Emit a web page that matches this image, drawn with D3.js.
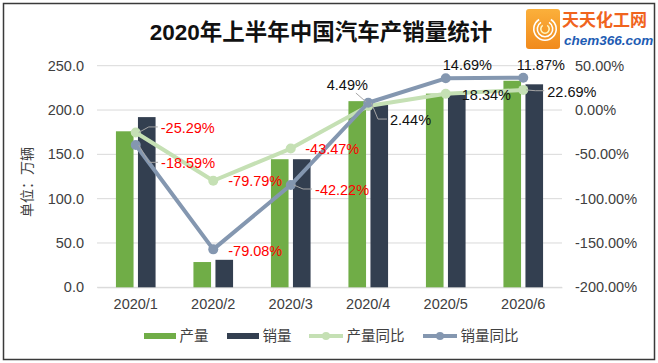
<!DOCTYPE html>
<html>
<head>
<meta charset="utf-8">
<script src="https://cdn.jsdelivr.net/npm/d3@7/dist/d3.min.js"></script>
<style>
  html, body { margin: 0; padding: 0; background: #fff; }
  svg text { font-family: "Liberation Sans", Arial, "Noto Sans CJK SC", sans-serif; }
</style>
</head>
<body>
<div id="chart"></div>
<script>
// data
const months = ["2020/1", "2020/2", "2020/3", "2020/4", "2020/5", "2020/6"];
const production = [176, 28.5, 144.5, 210, 218.5, 233];
const sales = [192, 31, 144.5, 206, 217, 229];
const productionYoy = [-25.29, -79.79, -43.47, 4.49, 18.34, 22.69];
// the sales line in the source is drawn at these heights, labelled with salesYoyLabels
const salesYoyPlot = [-39.5, -157.2, -84.6, 8.2, 35.8, 36.4];
const salesYoyLabels = [-18.59, -79.08, -42.22, 2.44, 14.69, 11.87];
const leftTicks = [0, 50, 100, 150, 200, 250];
const rightTicks = [-200, -150, -100, -50, 0, 50];

// label placement relative to its marker: [dx, dy, leader]
const prodLabelPos = [[25, -4.5, "side"], [15, 0, null], [14.5, 0.7, null], [-41.5, -21, "up"], [16, 1.3, null], [24, 1.8, "side"]];
const salesLabelPos = [[25.3, 18.3, "side"], [15, 1.4, null], [24.3, 5, "side"], [21.7, 17.3, "side"], [-3, -13.3, null], [-6.5, -12.7, null]];

const width = 658, height = 363;
const plot = { left: 97, right: 562, top: 65.7, bottom: 287.3 };

const svg = d3.select("#chart").append("svg")
  .attr("width", width)
  .attr("height", height);

svg.append("rect")
  .attr("x", 3.5).attr("y", 3.5)
  .attr("width", 651).attr("height", 356)
  .attr("fill", "#fff")
  .attr("stroke", "#3a3a3a")
  .attr("stroke-width", 1.5);

const x = d3.scaleBand().domain(months).range([plot.left, plot.right]).padding(0);
const x1 = d3.scaleBand().domain(["prod", "sales"]).range([0, x.bandwidth()])
  .paddingInner(0.2).paddingOuter(0.86);
const yL = d3.scaleLinear().domain([0, 250]).range([plot.bottom, plot.top]);
const yR = d3.scaleLinear().domain([-200, 50]).range([plot.bottom, plot.top]);
const cx = m => x(m) + x.bandwidth() / 2;

// gridlines
svg.append("g").selectAll("line")
  .data(leftTicks)
  .join("line")
  .attr("x1", plot.left).attr("x2", plot.right)
  .attr("y1", d => yL(d)).attr("y2", d => yL(d))
  .attr("stroke", "#d9d9d9")
  .attr("stroke-width", 1);

// left axis
const axisLeft = d3.axisLeft(yL).tickValues(leftTicks).tickFormat(d3.format(".1f")).tickSize(0).tickPadding(13);
svg.append("g")
  .attr("transform", `translate(${plot.left},0)`)
  .call(axisLeft)
  .call(g => g.select(".domain").remove())
  .call(g => g.selectAll("text").attr("font-size", 14.5).attr("fill", "#404040")
    .style("font-family", '"Liberation Sans", Arial, sans-serif'));

// right axis
const axisRight = d3.axisRight(yR).tickValues(rightTicks).tickFormat(d => d.toFixed(2) + "%").tickSize(0).tickPadding(13);
svg.append("g")
  .attr("transform", `translate(${plot.right},0)`)
  .call(axisRight)
  .call(g => g.select(".domain").remove())
  .call(g => g.selectAll("text").attr("font-size", 14.5).attr("fill", "#404040")
    .style("font-family", '"Liberation Sans", Arial, sans-serif'));

// bottom axis
const axisBottom = d3.axisBottom(x).tickSize(0).tickPadding(11);
svg.append("g")
  .attr("transform", `translate(0,${plot.bottom})`)
  .call(axisBottom)
  .call(g => g.select(".domain").attr("stroke", "#d9d9d9"))
  .call(g => g.selectAll("text").attr("font-size", 14.5).attr("fill", "#404040")
    .style("font-family", '"Liberation Sans", Arial, sans-serif'));

// y axis title
svg.append("text")
  .attr("transform", "translate(27,182) rotate(-90)")
  .attr("text-anchor", "middle")
  .attr("dominant-baseline", "central")
  .attr("font-size", 14)
  .attr("fill", "#404040")
  .text("单位：万辆");

// bars
svg.append("g").selectAll("rect")
  .data(production)
  .join("rect")
  .attr("x", (d, i) => x(months[i]) + x1("prod"))
  .attr("width", x1.bandwidth())
  .attr("y", d => yL(d))
  .attr("height", d => yL(0) - yL(d))
  .attr("fill", "#70ad47");

svg.append("g").selectAll("rect")
  .data(sales)
  .join("rect")
  .attr("x", (d, i) => x(months[i]) + x1("sales"))
  .attr("width", x1.bandwidth())
  .attr("y", d => yL(d))
  .attr("height", d => yL(0) - yL(d))
  .attr("fill", "#333f50");

// lines
const drawLine = function(values, color) {
  const line = d3.line().x((d, i) => cx(months[i])).y(d => yR(d));
  svg.append("path")
    .datum(values)
    .attr("d", line)
    .attr("fill", "none")
    .attr("stroke", color)
    .attr("stroke-width", 4)
    .attr("stroke-linejoin", "round");
  svg.append("g").selectAll("circle")
    .data(values)
    .join("circle")
    .attr("cx", (d, i) => cx(months[i]))
    .attr("cy", d => yR(d))
    .attr("r", 5)
    .attr("fill", color);
}
drawLine(productionYoy, "#c5e0b4");
drawLine(salesYoyPlot, "#8497b0");

// data labels
const drawLabels = function(plotValues, labels, pos) {
  const g = svg.append("g");
  labels.forEach((v, i) => {
    const mx = cx(months[i]), my = yR(plotValues[i]);
    const [dx, dy, leader] = pos[i];
    const tx = mx + dx, ty = my + dy;
    const t = g.append("text")
      .attr("x", tx).attr("y", ty)
      .attr("dominant-baseline", "central")
      .attr("font-size", 14.5)
      .attr("fill", v < 0 ? "#ff0000" : "#111")
      .style("font-family", '"Liberation Sans", Arial, sans-serif')
      .text(v.toFixed(2) + "%");
    if (leader === "side") {
      g.append("polyline")
        .attr("points", `${tx - 3},${ty - 1} ${tx - 12},${ty - 1} ${mx + 3},${my}`)
        .attr("fill", "none").attr("stroke", "#a6a6a6").attr("stroke-width", 1);
    } else if (leader === "up") {
      const w = t.node().getComputedTextLength();
      g.append("line")
        .attr("x1", tx + w - 12).attr("y1", ty + 8)
        .attr("x2", mx - 2).attr("y2", my - 4)
        .attr("stroke", "#a6a6a6").attr("stroke-width", 1);
    }
  });
}
drawLabels(productionYoy, productionYoy, prodLabelPos);
drawLabels(salesYoyPlot, salesYoyLabels, salesLabelPos);

// title
svg.append("text")
  .attr("x", 321).attr("y", 32)
  .attr("text-anchor", "middle")
  .attr("dominant-baseline", "central")
  .attr("font-size", 22.5)
  .attr("font-weight", "bold")
  .attr("fill", "#111")
  .text("2020年上半年中国汽车产销量统计");

// logo
const logo = svg.append("g");
const grad = svg.append("defs").append("linearGradient").attr("id", "lg").attr("x1", 0).attr("y1", 0).attr("x2", 0).attr("y2", 1);
grad.append("stop").attr("offset", "0%").attr("stop-color", "#fbb03b");
grad.append("stop").attr("offset", "100%").attr("stop-color", "#f18a1c");
logo.append("rect").attr("x", 526).attr("y", 9).attr("width", 34).attr("height", 40).attr("rx", 3).attr("fill", "url(#lg)");
[12, 8.5, 5].forEach((r, i) => {
  logo.append("path")
    .attr("d", d3.arc().innerRadius(r - 1.6).outerRadius(r).startAngle(0.55).endAngle(2 * Math.PI - 0.55)())
    .attr("transform", "translate(545,29)")
    .attr("fill", i === 2 ? "#fff6c0" : "#fff");
});
logo.append("text").attr("x", 562).attr("y", 26)
  .attr("font-size", 17).attr("font-weight", "bold").attr("fill", "#f0641e")
  .text("天天化工网");
logo.append("text").attr("x", 564).attr("y", 45)
  .attr("font-size", 13.5).attr("font-weight", "bold").attr("font-style", "italic").attr("fill", "#1e5cb3")
  .style("font-family", '"Liberation Sans", Arial, sans-serif')
  .text("chem366.com");

// legend
const legendItems = [
  { name: "产量", type: "bar", color: "#70ad47", x: 144 },
  { name: "销量", type: "bar", color: "#333f50", x: 227 },
  { name: "产量同比", type: "line", color: "#c5e0b4", x: 309 },
  { name: "销量同比", type: "line", color: "#8497b0", x: 423 }
];
const legend = svg.append("g").attr("transform", "translate(0,336)");
legendItems.forEach(it => {
  if (it.type === "bar") {
    legend.append("rect").attr("x", it.x).attr("y", -3).attr("width", 32).attr("height", 6).attr("fill", it.color);
  } else {
    legend.append("line").attr("x1", it.x).attr("x2", it.x + 34).attr("y1", 0).attr("y2", 0)
      .attr("stroke", it.color).attr("stroke-width", 4);
    legend.append("circle").attr("cx", it.x + 17).attr("cy", 0).attr("r", 4).attr("fill", it.color);
  }
  legend.append("text")
    .attr("x", it.x + (it.type === "bar" ? 35.5 : 37.5)).attr("y", 0)
    .attr("dominant-baseline", "central")
    .attr("font-size", 14.5)
    .attr("fill", "#404040")
    .text(it.name);
});
</script>
</body>
</html>
